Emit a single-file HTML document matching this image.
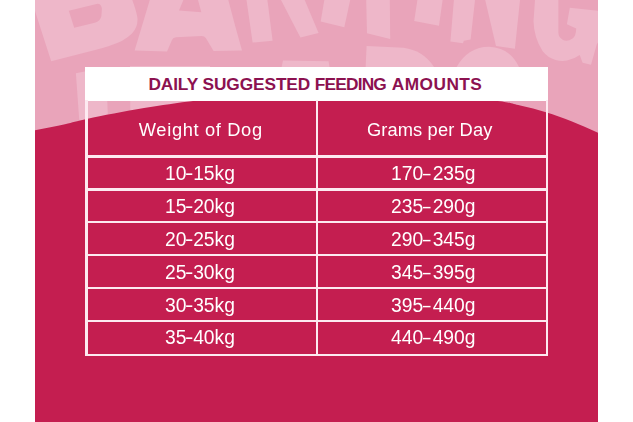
<!DOCTYPE html>
<html>
<head>
<meta charset="utf-8">
<title>Daily Suggested Feeding Amounts</title>
<style>
html,body{margin:0;padding:0;background:#fff;}
body{width:633px;height:422px;position:relative;overflow:hidden;font-family:"Liberation Sans",sans-serif;}
#bg{position:absolute;left:0;top:0;width:633px;height:422px;}
#tbl{position:absolute;left:85px;top:67px;width:463px;height:289px;filter:blur(0.35px);}
.hdr{position:absolute;left:0.35px;top:-0.5px;width:462.55px;height:34px;background:#fff;}
.hdr span{position:absolute;left:63.05px;top:8.5px;font-weight:bold;font-size:17.3px;letter-spacing:-0.1px;line-height:18px;color:#8c1150;white-space:nowrap;}
.ln{position:absolute;background:#fdeaf1;}
.t{position:absolute;color:#fff;white-space:nowrap;line-height:20px;}
.h{font-size:18.3px;}
.d{font-size:20.3px;transform-origin:0 50%;}
.hy{display:inline-block;font-style:normal;transform:scaleX(1.3);margin:0 0.7px 0 -0.4px;}
.en{display:inline-block;font-style:normal;transform:scaleX(0.7);margin:0 0.6px 0 -1.9px;}
</style>
</head>
<body>
<svg id="bg" width="633" height="422" viewBox="0 0 633 422">
<defs><clipPath id="cp"><rect x="35" y="0" width="563" height="422"/></clipPath></defs>
<g clip-path="url(#cp)">
<rect x="35" y="0" width="563" height="422" fill="#e9a4ba"/>
<g fill="#eeb7c9">
<!-- B -->
<path fill-rule="evenodd" d="M30,0 L35,11 L51.2,61.2 L96,49.8 Q111,46 121.8,41 Q128,37.5 132,33.5 Q138.6,26 137.3,17 Q136,10 132.3,0 Z M68.8,10.7 L96.5,3.9 Q101,3 101.9,8.5 L101.4,16 Q100.5,21 94.8,22.7 L74.2,27.7 Z"/>
<!-- A -->
<path fill-rule="evenodd" d="M149.8,0 L134.6,50.6 L167,51.6 L172,40 Q173.2,37.5 176,37.3 L201.5,36 Q204.5,36 205.8,38 L213.6,51 L242,50.4 L235.2,26 L228.3,0 Z M183.4,0 L198,0 L201.3,12.2 L179,10.4 Z"/>
<!-- R -->
<path d="M246.5,0 L252.6,42.6 L272.6,40.8 L267.4,0 Z"/>
<path d="M281,0 L300.4,37.6 L318.6,33 L304.7,0 Z"/>
<!-- K -->
<path d="M324.3,0 L320.7,21.4 L344.3,27.2 L350.2,0 Z"/>
<path d="M366.2,0 L367,33.3 L390.2,39 L389.8,0 Z"/>
<!-- I -->
<path d="M417.4,0 L414.2,20.9 L439,25.7 L442.6,0 Z"/>
<!-- N -->
<path d="M453.9,0 L450.4,41.5 L463,43.2 L463.8,40.8 L470.6,39.5 L475,0 Z"/>
<path d="M485.2,0 L496,46 L514.9,48.8 L520,0 Z"/>
<!-- G -->
<path d="M535,0 L533.5,21.3 Q534,38 542.7,51.3 Q548,58 555.5,59.9 Q561,61.5 567,60.6 Q574,59 579.7,54.9 L582.6,62.7 L591,64.8 L596.8,44.2 L600,40 L600,10.9 L569.8,7.8 L566.9,24.2 L576.2,28.4 Q576,36 572.6,38.4 Q567,42.5 562.7,39.8 Q558.4,37 558.4,32.7 L558.4,0 Z"/>
<!-- second line -->
<path d="M75.9,73.2 L106,67.2 L108.2,125 L79.6,125 Z"/>
<path d="M130,66 L130.4,125 L210,125 L210,66 Z"/>
<path d="M283,60.4 L328.6,61.2 L330,70 L281,70 Z"/>
<path d="M366.6,46 L403.6,47.8 Q423,50.5 433.5,66.3 L434,70 L365.5,70 Z"/>
<path d="M456.6,67 Q468,47 489,46.8 Q510,47.5 519,67 Z"/>
</g>
<path d="M35.00,130.20 C45.00,128.22 56.20,126.12 65.00,124.20 C73.80,122.28 74.63,121.38 87.80,118.70 C100.97,116.02 125.83,111.15 144.00,108.10 C162.17,105.05 175.80,102.98 196.80,100.40 C217.80,97.82 245.30,94.37 270.00,92.60 C294.70,90.83 320.00,89.90 345.00,89.80 C370.00,89.70 394.98,90.22 420.00,92.00 C445.02,93.78 478.40,98.23 495.10,100.50 C511.80,102.77 511.72,103.63 520.20,105.60 C528.68,107.57 537.47,109.70 546.00,112.30 C554.53,114.90 562.73,117.80 571.40,121.20 C580.07,124.60 589.07,128.57 598.00,132.70 L598,422 L35,422 Z" fill="#c41e50"/>
</g>
</svg>
<div id="tbl">
  <div class="hdr"><span>DAILY SUGGESTED</span><span style="left:229.45px;letter-spacing:-0.8px;">FEEDING</span><span style="left:306.45px;letter-spacing:0.45px;">AMOUNTS</span></div>
  <!-- borders -->
  <div class="ln" style="left:0.35px;top:33px;width:2.2px;height:256.4px;"></div>
  <div class="ln" style="left:230.60px;top:33px;width:2.2px;height:256.4px;"></div>
  <div class="ln" style="left:460.70px;top:33px;width:2.2px;height:256.4px;"></div>
  <div class="ln" style="left:0.35px;top:88.4px;width:462.55px;height:2.2px;"></div>
  <div class="ln" style="left:0.35px;top:121.4px;width:462.55px;height:2.2px;"></div>
  <div class="ln" style="left:0.35px;top:154.1px;width:462.55px;height:2.2px;"></div>
  <div class="ln" style="left:0.35px;top:186.9px;width:462.55px;height:2.2px;"></div>
  <div class="ln" style="left:0.35px;top:219.8px;width:462.55px;height:2.2px;"></div>
  <div class="ln" style="left:0.35px;top:252.7px;width:462.55px;height:2.2px;"></div>
  <div class="ln" style="left:0.35px;top:287.2px;width:462.55px;height:2.2px;"></div>

  <span class="t h" style="left:53.8px;top:52.7px;letter-spacing:0.65px;">Weight of Dog</span>
  <span class="t h" style="left:281.9px;top:52.7px;letter-spacing:0.13px;">Grams per Day</span>
  <span class="t d" style="left:80.2px;top:96.4px;transform:scaleX(0.95);">10<i class="hy">-</i>15kg</span>
  <span class="t d" style="left:305.6px;top:96.4px;transform:scaleX(0.95);">170<i class="en">–</i>235g</span>
  <span class="t d" style="left:80.2px;top:129.2px;transform:scaleX(0.95);">15<i class="hy">-</i>20kg</span>
  <span class="t d" style="left:305.6px;top:129.2px;transform:scaleX(0.95);">235<i class="en">–</i>290g</span>
  <span class="t d" style="left:80.2px;top:161.9px;transform:scaleX(0.95);">20<i class="hy">-</i>25kg</span>
  <span class="t d" style="left:305.6px;top:161.9px;transform:scaleX(0.95);">290<i class="en">–</i>345g</span>
  <span class="t d" style="left:80.2px;top:194.6px;transform:scaleX(0.95);">25<i class="hy">-</i>30kg</span>
  <span class="t d" style="left:305.6px;top:194.6px;transform:scaleX(0.95);">345<i class="en">–</i>395g</span>
  <span class="t d" style="left:80.2px;top:227.6px;transform:scaleX(0.95);">30<i class="hy">-</i>35kg</span>
  <span class="t d" style="left:305.6px;top:227.6px;transform:scaleX(0.95);">395<i class="en">–</i>440g</span>
  <span class="t d" style="left:80.2px;top:260.4px;transform:scaleX(0.95);">35<i class="hy">-</i>40kg</span>
  <span class="t d" style="left:305.6px;top:260.4px;transform:scaleX(0.95);">440<i class="en">–</i>490g</span>
</div>
</body>
</html>
